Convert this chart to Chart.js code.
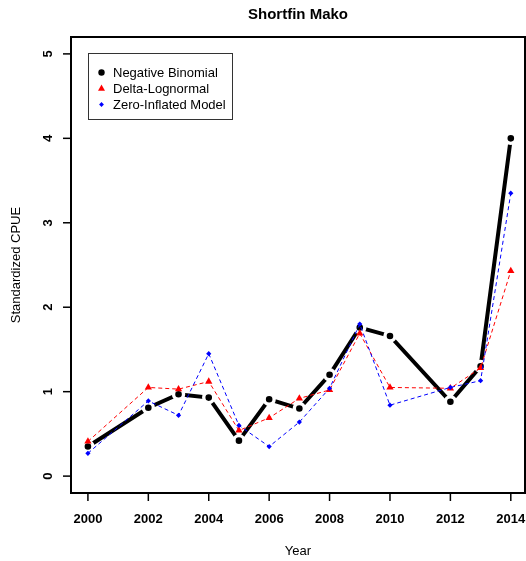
<!DOCTYPE html>
<html lang="en">
<head>
<meta charset="UTF-8" />
<title>Shortfin Mako</title>
<script src="https://cdn.jsdelivr.net/npm/chart.js"></script>
<style>
    html, body { margin: 0; padding: 0; background: #fff; overflow: hidden; }
    canvas { display: block; }
</style>
</head>
<body>
<canvas id="graficoMako" width="526" height="561"></canvas>
<script>
// data (2001 and 2011 missing)
const years    = [2000, 2002, 2003, 2004, 2005, 2006, 2007, 2008, 2009, 2010, 2012, 2013, 2014];
const negBin   = [0.35, 0.81, 0.97, 0.93, 0.42, 0.91, 0.80, 1.20, 1.76, 1.66, 0.88, 1.30, 4.00];
const deltaLog = [0.41, 1.05, 1.03, 1.12, 0.54, 0.69, 0.92, 1.02, 1.69, 1.05, 1.04, 1.28, 2.43];
const zeroInf  = [0.27, 0.89, 0.72, 1.45, 0.60, 0.35, 0.64, 1.04, 1.80, 0.84, 1.05, 1.13, 3.35];

const seriesNames = ["Negative Binomial", "Delta-Lognormal", "Zero-Inflated Model"];
const xTicks = [2000, 2002, 2004, 2006, 2008, 2010, 2012, 2014];
const yTicks = [0, 1, 2, 3, 4, 5];

const FONT = "'Liberation Sans', Arial, Helvetica, sans-serif";

function pts(vals) {
    return years.map((yr, i) => ({ x: yr, y: vals[i] }));
}

// draws the R-style frame, axes, titles and legend
const rFrame = {
    id: "rFrame",
    afterDraw(chart) {
        const { ctx, chartArea: a, scales: { x, y } } = chart;
        ctx.save();
        ctx.strokeStyle = "#000";
        ctx.fillStyle = "#000";

        // box
        ctx.lineWidth = 2;
        ctx.strokeRect(a.left, a.top, a.right - a.left, a.bottom - a.top);

        // x axis ticks + labels
        ctx.lineWidth = 1.5;
        ctx.font = "bold 13px " + FONT;
        ctx.textAlign = "center";
        ctx.textBaseline = "middle";
        xTicks.forEach(v => {
            const px = x.getPixelForValue(v);
            ctx.beginPath();
            ctx.moveTo(px, a.bottom);
            ctx.lineTo(px, a.bottom + 8);
            ctx.stroke();
            ctx.fillText(String(v), px, 519);
        });

        // y axis ticks + rotated labels
        yTicks.forEach(v => {
            const py = y.getPixelForValue(v);
            ctx.beginPath();
            ctx.moveTo(a.left - 8, py);
            ctx.lineTo(a.left, py);
            ctx.stroke();
            ctx.save();
            ctx.translate(48, py);
            ctx.rotate(-Math.PI / 2);
            ctx.fillText(String(v), 0, 0);
            ctx.restore();
        });

        // titles
        ctx.font = "bold 15px " + FONT;
        ctx.fillText("Shortfin Mako", (a.left + a.right) / 2, 15);
        ctx.font = "13px " + FONT;
        ctx.fillText("Year", (a.left + a.right) / 2, 551);
        ctx.save();
        ctx.translate(16, (a.top + a.bottom) / 2);
        ctx.rotate(-Math.PI / 2);
        ctx.fillText("Standardized CPUE", 0, 0);
        ctx.restore();

        // legend
        ctx.lineWidth = 1;
        ctx.strokeStyle = "#333";
        ctx.strokeRect(88.5, 53.5, 144, 66);
        ctx.textAlign = "left";
        const rows = [72.5, 88.5, 104.5];
        const mx = 101.5;
        ctx.fillStyle = "#000";
        ctx.beginPath();
        ctx.arc(mx, rows[0], 3.2, 0, Math.PI * 2);
        ctx.fill();
        ctx.fillStyle = "#ff0000";
        ctx.beginPath();
        ctx.moveTo(mx, rows[1] - 4);
        ctx.lineTo(mx + 3.5, rows[1] + 2.2);
        ctx.lineTo(mx - 3.5, rows[1] + 2.2);
        ctx.closePath();
        ctx.fill();
        ctx.fillStyle = "#0000ff";
        ctx.beginPath();
        ctx.moveTo(mx, rows[2] - 2.4);
        ctx.lineTo(mx + 2.4, rows[2]);
        ctx.lineTo(mx, rows[2] + 2.4);
        ctx.lineTo(mx - 2.4, rows[2]);
        ctx.closePath();
        ctx.fill();

        ctx.fillStyle = "#000";
        seriesNames.forEach((name, i) => ctx.fillText(name, 113, rows[i] + 0.5));
        ctx.restore();
    }
};

new Chart(document.getElementById("graficoMako"), {
    type: "line",
    data: {
        datasets: [
            {
                // type "b" look: white ring around the dots breaks the thick line
                label: seriesNames[0],
                data: pts(negBin),
                borderColor: "#000",
                backgroundColor: "#000",
                borderWidth: 4,
                pointStyle: "circle",
                pointRadius: 5,
                pointBorderWidth: 3.4,
                pointBorderColor: "#fff",
                pointBackgroundColor: "#000",
                tension: 0,
                order: 3
            },
            {
                label: seriesNames[1],
                data: pts(deltaLog),
                borderColor: "#ff0000",
                backgroundColor: "#ff0000",
                borderWidth: 1,
                borderDash: [4, 3],
                pointStyle: "triangle",
                pointRadius: 4.2,
                pointBorderWidth: 0,
                tension: 0,
                order: 2
            },
            {
                label: seriesNames[2],
                data: pts(zeroInf),
                borderColor: "#0000ff",
                backgroundColor: "#0000ff",
                borderWidth: 1,
                borderDash: [4, 3],
                pointStyle: "rectRot",
                pointRadius: 2.6,
                pointBorderWidth: 0,
                tension: 0,
                order: 1
            }
        ]
    },
    options: {
        responsive: false,
        animation: false,
        layout: { autoPadding: false, padding: { left: 71, right: 1, top: 37, bottom: 68 } },
        scales: {
            x: { type: "linear", display: false, min: 1999.44, max: 2014.47 },
            y: { display: false, min: -0.2, max: 5.2 }
        },
        plugins: {
            legend: { display: false },
            tooltip: { enabled: false }
        }
    },
    plugins: [rFrame]
});
</script>
</body>
</html>
